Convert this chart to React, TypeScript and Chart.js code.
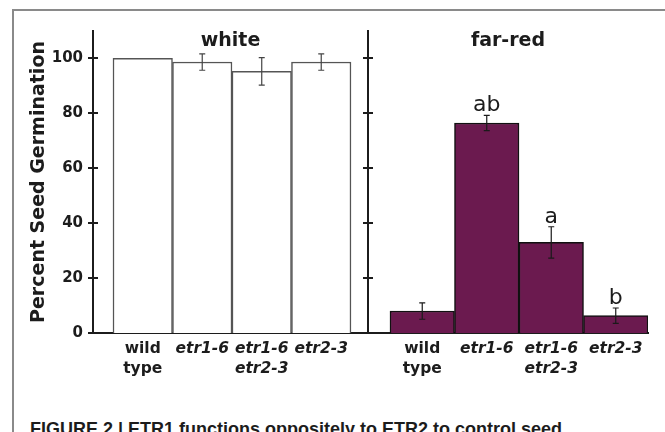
import React, { useEffect, useRef } from "react";
import { Chart, registerables } from "chart.js";

Chart.register(...registerables);

// ---------- data ----------
const categories = ["wild type", "etr1-6", "etr1-6 etr2-3", "etr2-3"];
const categoryLines = [["wild", "type"], ["etr1-6"], ["etr1-6", "etr2-3"], ["etr2-3"]];
const italicCategory = [false, true, true, true];

const whiteValues = [100, 98.7, 95.3, 98.7];
const whiteErrors = [0, 3, 5, 3];
const whiteLetters = ["", "", "", ""];

const farRedValues = [8, 76.5, 33, 6.3];
const farRedErrors = [3, 2.8, 5.7, 2.8];
const farRedLetters = ["", "ab", "a", "b"];

const panelTitles = ["white", "far-red"];
const yAxisTitle = "Percent Seed Germination";
const yMax = 110;
const yStep = 20;
const caption = "FIGURE 2 | ETR1 functions oppositely to ETR2 to control seed";

// ---------- styles ----------
const FAMILY = "'DejaVu Sans', 'Liberation Sans', sans-serif";
const AXIS = "#1c1c1c";
const TEXT = "#1c1c1c";

type PanelOpts = {
  values: number[];
  errors: number[];
  letters: string[];
  title: string;
  fill: string;
  border: string;
  errColor: string;
  showYLabels: boolean;
  padLeft: number;
  padRight: number;
  yWidth: number;
  xMin: number;
  xMax: number;
};

const decorPlugin = {
  id: "decor",
  afterDraw(chart: any, _args: any, opts: any) {
    const ctx = chart.ctx as CanvasRenderingContext2D;
    const y = chart.scales.y;
    const area = chart.chartArea;
    ctx.save();
    // crossing tick marks on the y axis
    ctx.strokeStyle = AXIS;
    ctx.lineWidth = 2;
    y.ticks.forEach((t: any) => {
      const py = Math.round(y.getPixelForValue(t.value));
      ctx.beginPath();
      ctx.moveTo(area.left - 5, py);
      ctx.lineTo(area.left + 5, py);
      ctx.stroke();
    });
    // error bars and letters
    const meta = chart.getDatasetMeta(0);
    const values: number[] = opts.values;
    const errors: number[] = opts.errors;
    const letters: string[] = opts.letters;
    meta.data.forEach((bar: any, i: number) => {
      const v = values[i];
      const e = errors[i];
      const cx = bar.x;
      const top = y.getPixelForValue(v + e);
      if (e > 0) {
        const bot = y.getPixelForValue(v - e);
        ctx.strokeStyle = opts.errColor;
        ctx.lineWidth = 1.2;
        ctx.beginPath();
        ctx.moveTo(cx, top);
        ctx.lineTo(cx, bot);
        ctx.moveTo(cx - 3, top);
        ctx.lineTo(cx + 3, top);
        ctx.moveTo(cx - 3, bot);
        ctx.lineTo(cx + 3, bot);
        ctx.stroke();
      }
      if (letters[i]) {
        ctx.fillStyle = TEXT;
        ctx.font = `normal 22px ${FAMILY}`;
        ctx.textAlign = "center";
        ctx.textBaseline = "alphabetic";
        ctx.fillText(letters[i], cx, top - 4);
      }
    });
    // panel title
    ctx.fillStyle = TEXT;
    ctx.font = `bold 19px ${FAMILY}`;
    ctx.textAlign = "center";
    ctx.textBaseline = "alphabetic";
    ctx.fillText(opts.title, (area.left + area.right) / 2, area.top + 15);
    ctx.restore();
  },
};

function makeConfig(p: PanelOpts): any {
  return {
    type: "bar",
    data: {
      datasets: [
        {
          label: p.title,
          data: p.values.map((v, i) => ({ x: i, y: v })),
          backgroundColor: p.fill,
          borderColor: p.border,
          borderWidth: 1.5,
          barPercentage: 1,
          categoryPercentage: 1,
        },
      ],
    },
    options: {
      responsive: false,
      animation: false,
      layout: { padding: { left: p.padLeft, right: p.padRight, top: 31, bottom: 0 } },
      plugins: {
        legend: { display: false },
        tooltip: { enabled: false },
        decor: {
          values: p.values,
          errors: p.errors,
          letters: p.letters,
          title: p.title,
          errColor: p.errColor,
        },
      },
      scales: {
        x: {
          type: "linear",
          min: p.xMin,
          max: p.xMax,
          offset: false,
          z: 1,
          grid: { display: false, drawTicks: false, offset: false },
          border: { display: true, color: AXIS, width: 2 },
          afterFit: (s: any) => {
            s.height = 67;
          },
          ticks: {
            stepSize: 1,
            includeBounds: false,
            autoSkip: false,
            maxRotation: 0,
            padding: 6,
            color: TEXT,
            callback: (v: any) => categoryLines[v as number] ?? "",
            font: (c: any) => ({
              family: FAMILY,
              size: 15.5,
              weight: "bold",
              lineHeight: 1.3,
              style: c.tick && italicCategory[c.tick.value] ? "italic" : "normal",
            }),
          },
        },
        y: {
          type: "linear",
          min: 0,
          max: yMax,
          grid: { display: false, drawTicks: false },
          border: { display: true, color: AXIS, width: 2 },
          afterFit: (s: any) => {
            s.width = p.yWidth;
          },
          ticks: {
            display: p.showYLabels,
            stepSize: yStep,
            includeBounds: false,
            padding: 10,
            color: TEXT,
            font: { family: FAMILY, size: 15, weight: "bold" },
          },
          title: {
            display: p.showYLabels,
            text: yAxisTitle,
            color: TEXT,
            font: { family: FAMILY, size: 19, weight: "bold" },
            padding: { top: 8, bottom: 0 },
          },
        },
      },
    },
    plugins: [decorPlugin],
  };
}

export default function App() {
  const leftRef = useRef<HTMLCanvasElement>(null);
  const rightRef = useRef<HTMLCanvasElement>(null);

  useEffect(() => {
    document.body.style.margin = "0";
    const left = new Chart(
      leftRef.current as HTMLCanvasElement,
      makeConfig({
        values: whiteValues,
        errors: whiteErrors,
        letters: whiteLetters,
        title: panelTitles[0],
        fill: "#ffffff",
        border: "#555555",
        errColor: "#444444",
        showYLabels: true,
        padLeft: 20,
        padRight: 0,
        yWidth: 73,
        xMin: -0.836,
        xMax: 3.786,
      })
    );
    const right = new Chart(
      rightRef.current as HTMLCanvasElement,
      makeConfig({
        values: farRedValues,
        errors: farRedErrors,
        letters: farRedLetters,
        title: panelTitles[1],
        fill: "#6b1a4f",
        border: "#111111",
        errColor: "#1a1a1a",
        showYLabels: false,
        padLeft: 10,
        padRight: 17,
        yWidth: 0,
        xMin: -0.841,
        xMax: 3.5,
      })
    );
    return () => {
      left.destroy();
      right.destroy();
    };
  }, []);

  return (
    <div
      style={{
        position: "fixed",
        left: 0,
        top: 0,
        width: 665,
        height: 432,
        overflow: "hidden",
        background: "#ffffff",
      }}
    >
      <div
        style={{
          position: "absolute",
          left: 12,
          top: 9,
          width: 2000,
          height: 2000,
          borderLeft: "2px solid #8a8a8a",
          borderTop: "2px solid #8a8a8a",
        }}
      />
      <canvas
        ref={leftRef}
        width={368}
        height={400}
        style={{ position: "absolute", left: 0, top: 0, width: 368, height: 400 }}
      />
      <canvas
        ref={rightRef}
        width={307}
        height={400}
        style={{ position: "absolute", left: 358, top: 0, width: 307, height: 400 }}
      />
      <div
        style={{
          position: "absolute",
          left: 30,
          top: 420,
          whiteSpace: "nowrap",
          fontFamily: "'Liberation Sans', Arial, sans-serif",
          fontWeight: "bold",
          fontSize: 18,
          lineHeight: "18px",
          color: "#1c1c1c",
        }}
      >
        {caption}
      </div>
    </div>
  );
}
